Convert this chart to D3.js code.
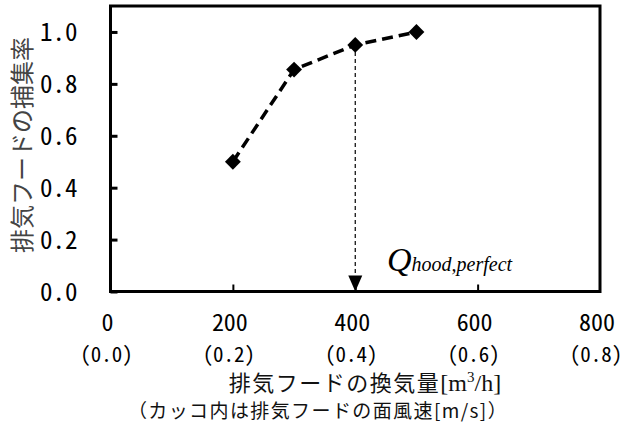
<!DOCTYPE html>
<html>
<head>
<meta charset="utf-8">
<script src="https://cdn.jsdelivr.net/npm/d3@7"></script>
<style>
  body { margin: 0; background: #fff; }
  svg { display: block; }
</style>
</head>
<body>
<script>
const width = 636
const height = 423

// data
const flow = [200, 300, 400, 500]
const capture = [0.5, 0.855, 0.95, 1.0]
const perfectFlow = 400
const xTicks = [0, 200, 400, 600, 800]
const speedLabels = ["(0.0)", "(0.2)", "(0.4)", "(0.6)", "(0.8)"]
const yTicks = [0, 0.2, 0.4, 0.6, 0.8, 1.0]

const points = flow.map((f, i) => ({ f: f, c: capture[i] }))

const monoFont = "'Noto Sans Mono CJK JP', 'Noto Sans CJK JP', 'DejaVu Sans Mono', monospace"
const jpFont = "'Noto Sans CJK JP', sans-serif"

const x = d3.scaleLinear().domain([0, 800]).range([110.5, 600])
const y = d3.scaleLinear().domain([0, 1.1]).range([291.5, 6])

const svg = d3
    .select("body")
    .append("svg")
    .attr("width", width)
    .attr("height", height)
    .attr("viewBox", [0, 0, width, height])

// frame
svg.append("rect")
    .attr("x", x(0))
    .attr("y", y(1.1))
    .attr("width", x(800) - x(0))
    .attr("height", y(0) - y(1.1))
    .attr("fill", "none")
    .attr("stroke", "#000")
    .attr("stroke-width", 3)

// y axis
const yAxis = svg
    .append("g")
    .attr("transform", `translate(${x(0)},0)`)
    .call(
        d3.axisLeft(y)
            .tickValues(yTicks)
            .tickSize(-7)
            .tickPadding(33)
            .tickFormat(d3.format(".1f"))
    )
yAxis.select(".domain").remove()
yAxis.selectAll(".tick line").attr("stroke-width", 3)
yAxis.selectAll(".tick text")
    .attr("font-family", monoFont)
    .attr("font-size", 25)
    .attr("fill", "#000")
    .attr("dy", "0.36em")

// x axis ticks (inner only)
const xAxis = svg
    .append("g")
    .attr("transform", `translate(0,${y(0)})`)
    .call(d3.axisBottom(x).tickValues([200, 400, 600]).tickSize(-7).tickFormat(""))
xAxis.select(".domain").remove()
xAxis.selectAll(".tick line").attr("stroke-width", 2)

// x tick labels, two rows
svg.append("g")
    .selectAll("text")
    .data(xTicks)
    .join("text")
    .attr("x", (d) => x(d) - 3)
    .attr("y", 322)
    .attr("dy", "0.36em")
    .attr("text-anchor", "middle")
    .attr("font-family", monoFont)
    .attr("font-size", 24)
    .text((d) => d)

svg.append("g")
    .selectAll("text")
    .data(speedLabels)
    .join("text")
    .attr("x", (d, i) => x(xTicks[i]) - 4)
    .attr("y", 354)
    .attr("dy", "0.36em")
    .attr("text-anchor", "middle")
    .attr("font-family", monoFont)
    .attr("font-size", 21)
    .text((d) => d)

// axis titles
const xTitle = svg.append("text")
    .attr("x", 365)
    .attr("y", 383)
    .attr("dy", "0.36em")
    .attr("text-anchor", "middle")
    .attr("font-family", jpFont)
    .attr("font-size", 22)
    .attr("letter-spacing", 1.5)
    .attr("fill", "#111")
xTitle.append("tspan").text("排気フードの換気量")
xTitle.append("tspan").attr("font-family", "'Liberation Serif', serif").attr("font-size", 24).attr("letter-spacing", 0).text("[m")
xTitle.append("tspan").attr("font-family", "'Liberation Serif', serif").attr("font-size", 15).attr("letter-spacing", 0).attr("dy", "-0.6em").text("3")
xTitle.append("tspan").attr("font-family", "'Liberation Serif', serif").attr("font-size", 24).attr("letter-spacing", 0).attr("dy", "0.36em").text("/h]")

svg.append("text")
    .attr("x", 318)
    .attr("y", 411)
    .attr("dy", "0.36em")
    .attr("text-anchor", "middle")
    .attr("font-family", jpFont)
    .attr("font-size", 19)
    .attr("letter-spacing", 1.4)
    .attr("fill", "#111")
    .text("（カッコ内は排気フードの面風速[m/s]）")

svg.append("text")
    .attr("transform", "translate(22,145) rotate(-90)")
    .attr("dy", "0.36em")
    .attr("text-anchor", "middle")
    .attr("font-family", jpFont)
    .attr("font-size", 24)
    .attr("fill", "#444")
    .text("排気フードの捕集率")

// guide arrow from the perfect point down to the axis
const pp = points.find((d) => d.f === perfectFlow)
svg.append("line")
    .attr("x1", x(pp.f))
    .attr("x2", x(pp.f))
    .attr("y1", y(pp.c))
    .attr("y2", y(0) - 14)
    .attr("stroke", "#000")
    .attr("stroke-width", 1.2)
    .attr("stroke-dasharray", "4,3")

svg.append("path")
    .attr("d", `M${x(pp.f) - 7},${y(0) - 16}L${x(pp.f) + 7},${y(0) - 16}L${x(pp.f)},${y(0)}Z`)
    .attr("fill", "#000")

// Q label
const q = svg.append("text")
    .attr("x", 387)
    .attr("y", 271)
    .attr("font-family", "'Liberation Serif', 'DejaVu Serif', serif")
    .attr("font-style", "italic")
q.append("tspan").attr("font-size", 34).text("Q")
q.append("tspan").attr("font-size", 20).text("hood,perfect")

// data line
svg.append("path")
    .datum(points)
    .attr("fill", "none")
    .attr("stroke", "#000")
    .attr("stroke-width", 3.5)
    .attr("stroke-dasharray", "11,6")
    .attr("d", d3.line().x((d) => x(d.f)).y((d) => y(d.c)))

svg.append("g")
    .selectAll("path")
    .data(points)
    .join("path")
    .attr("transform", (d) => `translate(${x(d.f)},${y(d.c)})`)
    .attr("d", d3.symbol(d3.symbolDiamond2, 160))
    .attr("fill", "#000")
</script>
</body>
</html>
